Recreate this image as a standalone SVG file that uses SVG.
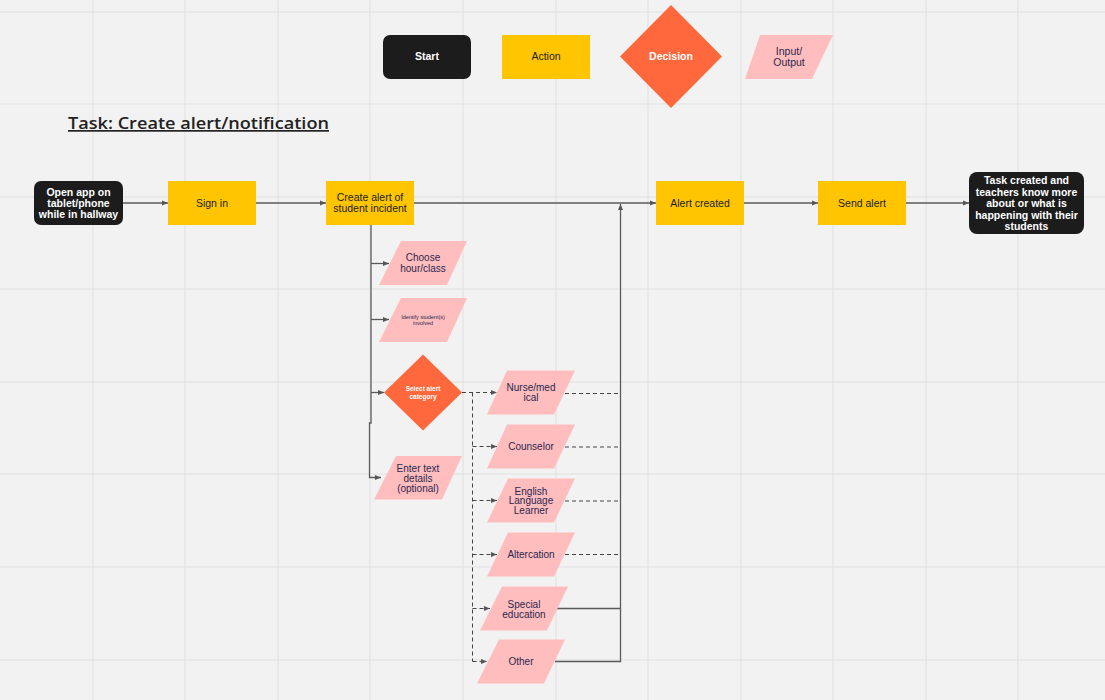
<svg xmlns="http://www.w3.org/2000/svg" width="1105" height="700" viewBox="0 0 1105 700">
<defs>
<marker id="ah" viewBox="0 0 6 6" refX="6" refY="3" markerWidth="6" markerHeight="6" markerUnits="userSpaceOnUse" orient="auto">
<path d="M0,0.5 L6,3 L0,5.5 Z" fill="#555"/>
</marker>
<style>
.grid{stroke:#e0e0e0;stroke-width:1}
.start{fill:#1c1c1c}
.action{fill:#ffc500}
.dec{fill:#ff683c}
.io{fill:#ffbdbd}
.tw{font-family:"Liberation Sans",Arial,sans-serif;font-weight:bold;fill:#ffffff;text-anchor:middle}
.tk{font-family:"Liberation Sans",Arial,sans-serif;fill:#222222;text-anchor:middle}
.tn{font-family:"Liberation Sans",Arial,sans-serif;fill:#2a2850;text-anchor:middle}
.ln{fill:none;stroke:#5a5a5a;stroke-width:1.3}
.dl{fill:none;stroke:#444;stroke-width:1;stroke-dasharray:4,3}
</style>
</defs>
<rect width="1105" height="700" fill="#f2f2f2"/>
<g id="grid">
<path class="grid" d="M93,0V700M185,0V700M278,0V700M370,0V700M463,0V700M556,0V700M648,0V700M741,0V700M833,0V700M926,0V700M1018,0V700M0,12H1105M0,104H1105M0,197H1105M0,289H1105M0,382H1105M0,474H1105M0,567H1105M0,660H1105"/>
</g>
<g id="legend">
<g id="legend-start"><rect class="start" x="383" y="35" width="88" height="44" rx="7"/><text class="tw" x="427" y="59.5" font-size="10.5">Start</text></g>
<g id="legend-action"><rect class="action" x="502" y="35" width="88" height="44"/><text class="tk" x="546" y="59.5" font-size="10.5">Action</text></g>
<g id="legend-decision"><polygon class="dec" points="671,5 722,56.5 671,108 620,56.5"/><text class="tw" x="671" y="60" font-size="10.5">Decision</text></g>
<g id="legend-io"><polygon class="io" points="760,35 833,35 812,79 745,79"/><text class="tn" font-size="10.5"><tspan x="789" y="55">Input/</tspan><tspan x="789" y="65.5">Output</tspan></text></g>
</g>
<text id="title" x="68" y="129" font-family="'Open Sans',sans-serif" font-weight="600" font-size="17" fill="#222" text-decoration="underline" textLength="261" lengthAdjust="spacingAndGlyphs">Task: Create alert/notification</text>
<g id="connectors">
<path class="ln" d="M123,203H168" marker-end="url(#ah)"/>
<path class="ln" d="M256,203H326" marker-end="url(#ah)"/>
<path class="ln" d="M414,203H656" marker-end="url(#ah)"/>
<path class="ln" d="M744,203H818" marker-end="url(#ah)"/>
<path class="ln" d="M906,203H969" marker-end="url(#ah)"/>
<path class="ln" d="M371,225V423H369.5V477.5H381" marker-end="url(#ah)"/>
<path class="ln" d="M371,263.5H389" marker-end="url(#ah)"/>
<path class="ln" d="M371,319.5H389" marker-end="url(#ah)"/>
<path class="ln" d="M371,392.5H384" marker-end="url(#ah)"/>
<path class="dl" d="M462,392.5H497" marker-end="url(#ah)"/>
<path class="dl" d="M472.5,392.5V661.5"/>
<path class="dl" d="M472.5,446.5H497" marker-end="url(#ah)"/>
<path class="dl" d="M472.5,500.5H497" marker-end="url(#ah)"/>
<path class="dl" d="M472.5,554.5H497" marker-end="url(#ah)"/>
<path class="dl" d="M472.5,608.5H490" marker-end="url(#ah)"/>
<path class="dl" d="M472.5,661.5H487" marker-end="url(#ah)"/>
<path class="dl" d="M565,393.5H620.5"/>
<path class="dl" d="M565,447H620.5"/>
<path class="dl" d="M565,501H620.5"/>
<path class="dl" d="M565,554.5H620.5"/>
<path class="ln" d="M557,608.5H620.5"/>
<path class="ln" d="M555,661.5H620.5V204" marker-end="url(#ah)"/>
</g>
<g id="open-app"><rect class="start" x="34" y="181" width="89" height="44" rx="7"/><text class="tw" font-size="10.5"><tspan x="78.5" y="195.5">Open app on</tspan><tspan x="78.5" y="206.5">tablet/phone</tspan><tspan x="78.5" y="217.5">while in hallway</tspan></text></g>
<g id="sign-in"><rect class="action" x="168" y="181" width="88" height="44"/><text class="tk" x="212" y="207" font-size="10.5">Sign in</text></g>
<g id="create-alert"><rect class="action" x="326" y="181" width="88" height="44"/><text class="tk" font-size="10.5"><tspan x="370" y="200.5">Create alert of</tspan><tspan x="370" y="212">student incident</tspan></text></g>
<g id="alert-created"><rect class="action" x="656" y="181" width="88" height="44"/><text class="tk" x="700" y="207" font-size="10.5">Alert created</text></g>
<g id="send-alert"><rect class="action" x="818" y="181" width="88" height="44"/><text class="tk" x="862" y="207" font-size="10.5">Send alert</text></g>
<g id="task-created"><rect class="start" x="969" y="172" width="115" height="62" rx="8"/><text class="tw" font-size="10.5"><tspan x="1026.5" y="184">Task created and</tspan><tspan x="1026.5" y="195.5">teachers know more</tspan><tspan x="1026.5" y="207">about or what is</tspan><tspan x="1026.5" y="218.5">happening with their</tspan><tspan x="1026.5" y="230">students</tspan></text></g>
<g id="choose-hour"><polygon class="io" points="401,241 467,241 447,285 379,285"/><text class="tn" font-size="10"><tspan x="423" y="261">Choose</tspan><tspan x="423" y="272">hour/class</tspan></text></g>
<g id="identify"><polygon class="io" points="401,298 467,298 447,342 379,342"/><text class="tn" font-size="5.5"><tspan x="423" y="319">Identify student(s)</tspan><tspan x="423" y="325">involved</tspan></text></g>
<g id="select-category"><polygon class="dec" points="423,354.5 462,392.5 423,430.5 384,392.5"/><text class="tw" font-size="6.5"><tspan x="423" y="391">Select alert</tspan><tspan x="423" y="399">category</tspan></text></g>
<g id="enter-text"><polygon class="io" points="396,456 462,456 442,499.5 374,499.5"/><text class="tn" font-size="10"><tspan x="418" y="471.5">Enter text</tspan><tspan x="418" y="481.5">details</tspan><tspan x="418" y="491.5">(optional)</tspan></text></g>
<g id="nurse"><polygon class="io" points="507,370.5 575,370.5 554,414.5 487,414.5"/><text class="tn" font-size="10"><tspan x="531" y="391">Nurse/med</tspan><tspan x="531" y="401">ical</tspan></text></g>
<g id="counselor"><polygon class="io" points="507,424.5 575,424.5 554,468.5 487,468.5"/><text class="tn" x="531" y="450" font-size="10">Counselor</text></g>
<g id="ell"><polygon class="io" points="508,478.5 575,478.5 554,522.5 487,522.5"/><text class="tn" font-size="10"><tspan x="531" y="494.5">English</tspan><tspan x="531" y="504">Language</tspan><tspan x="531" y="513.5">Learner</tspan></text></g>
<g id="altercation"><polygon class="io" points="508,532.5 575,532.5 554,576.5 487,576.5"/><text class="tn" x="531" y="558" font-size="10">Altercation</text></g>
<g id="special-ed"><polygon class="io" points="502,586.5 568,586.5 547,630.5 480,630.5"/><text class="tn" font-size="10"><tspan x="524" y="607.5">Special</tspan><tspan x="524" y="618">education</tspan></text></g>
<g id="other"><polygon class="io" points="499,639.5 565,639.5 544,683.5 477,683.5"/><text class="tn" x="521" y="665" font-size="10">Other</text></g>
</svg>
